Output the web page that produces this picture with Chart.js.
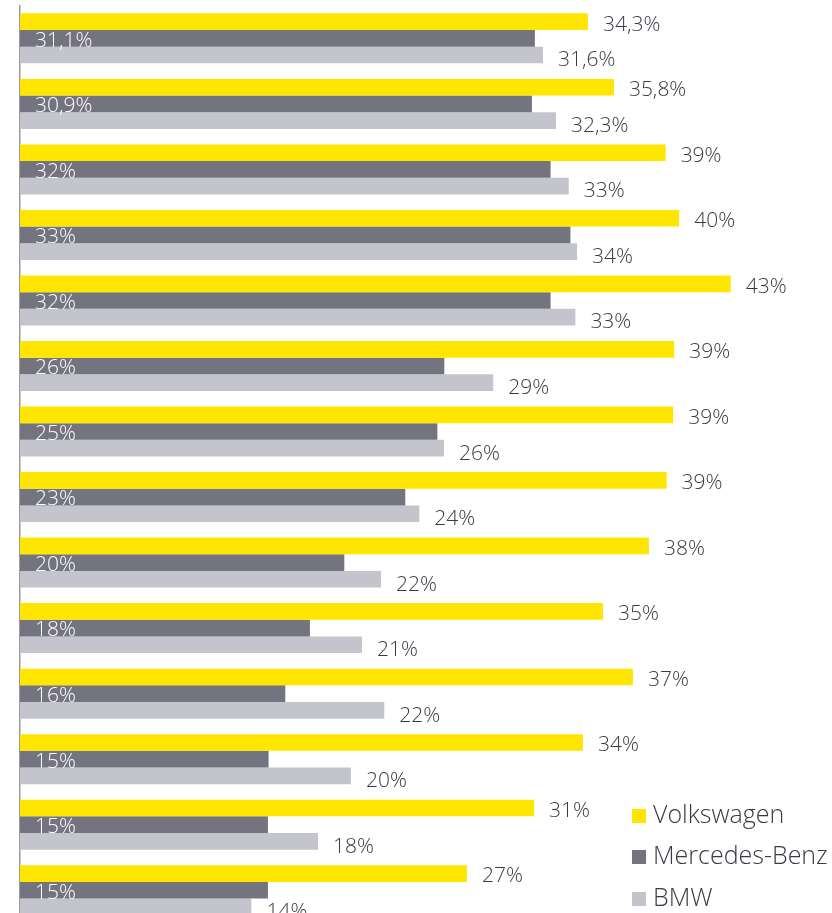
<!DOCTYPE html>
<html>
<head>
<meta charset="utf-8">
<script src="https://cdn.jsdelivr.net/npm/chart.js@4.4.1/dist/chart.umd.min.js"></script>
<style>
html,body{margin:0;padding:0;overflow:hidden;background:#ffffff;width:832px;height:913px}
canvas{display:block}
</style>
</head>
<body>
<canvas id="c" width="832" height="923"></canvas>
<script>
// ---- data ----
const categories = ['1','2','3','4','5','6','7','8','9','10','11','12','13','14'];
const seriesNames = ['Volkswagen', 'Mercedes-Benz', 'BMW'];
const volkswagen = [34.36, 35.93, 39.06, 39.88, 43.0, 39.58, 39.52, 39.12, 38.05, 35.27, 37.08, 34.06, 31.1, 27.04];
const mercedes   = [31.15, 30.97, 32.1, 33.3, 32.1, 25.67, 25.25, 23.31, 19.62, 17.54, 16.05, 15.04, 15.0, 15.0];
const bmw        = [31.64, 32.43, 33.2, 33.7, 33.6, 28.63, 25.65, 24.16, 21.84, 20.69, 22.04, 20.02, 18.03, 14.0];
const vwLabels   = ['34,3%','35,8%','39%','40%','43%','39%','39%','39%','38%','35%','37%','34%','31%','27%'];
const mbLabels   = ['31,1%','30,9%','32%','33%','32%','26%','25%','23%','20%','18%','16%','15%','15%','15%'];
const bmwLabels  = ['31,6%','32,3%','33%','34%','33%','29%','26%','24%','22%','21%','22%','20%','18%','14%'];

const COLORS = ['#FFE600', '#747480', '#C4C4CD'];
const TEXT = '#3a3a44';
const FONT_FAMILY = '"Open Sans", "Noto Sans", "Liberation Sans", sans-serif';

const labelPlugin = {
  id: 'valueLabels',
  afterDatasetsDraw(chart) {
    const ctx = chart.ctx;
    ctx.save();
    ctx.font = '300 21px ' + FONT_FAMILY;
    ctx.textBaseline = 'alphabetic';
    ctx.textAlign = 'left';
    const lbls = [vwLabels, mbLabels, bmwLabels];
    chart.data.datasets.forEach((ds, di) => {
      const meta = chart.getDatasetMeta(di);
      meta.data.forEach((el, i) => {
        const p = el.getProps(['x', 'y', 'base', 'height'], true);
        const bottom = p.y + p.height / 2;
        if (di === 0) {
          ctx.fillStyle = TEXT;
          ctx.fillText(lbls[di][i], p.x + 15, bottom + 0.5);
        } else if (di === 1) {
          ctx.fillStyle = '#ffffff';
          ctx.fillText(lbls[di][i], p.base + 15, bottom);
        } else {
          ctx.fillStyle = TEXT;
          ctx.fillText(lbls[di][i], p.x + 15, bottom + 3);
        }
      });
    });
    ctx.restore();
  }
};

const legendPlugin = {
  id: 'customLegend',
  afterDraw(chart) {
    const ctx = chart.ctx;
    ctx.save();
    ctx.font = '300 25px ' + FONT_FAMILY;
    ctx.textBaseline = 'alphabetic';
    ctx.textAlign = 'left';
    const baselines = [823, 864, 906];
    chart.data.datasets.forEach((ds, di) => {
      const b = baselines[di];
      ctx.fillStyle = ds.backgroundColor;
      ctx.fillRect(632, b - 14, 14, 14);
      ctx.fillStyle = TEXT;
      ctx.fillText(ds.label, 653, b);
    });
    ctx.restore();
  }
};

new Chart(document.getElementById('c'), {
  type: 'bar',
  data: {
    labels: categories,
    datasets: [
      { label: seriesNames[0], data: volkswagen, backgroundColor: COLORS[0] },
      { label: seriesNames[1], data: mercedes, backgroundColor: COLORS[1] },
      { label: seriesNames[2], data: bmw, backgroundColor: COLORS[2] }
    ]
  },
  options: {
    indexAxis: 'y',
    responsive: false,
    devicePixelRatio: 1,
    animation: false,
    layout: { padding: { left: 20, right: 18.6, top: 5.6, bottom: 0 } },
    datasets: { bar: { categoryPercentage: 0.763, barPercentage: 1.0, borderWidth: 0 } },
    scales: {
      x: { display: false, min: 0, max: 48 },
      y: {
        display: true,
        grid: { display: false, drawTicks: false },
        ticks: { display: false },
        border: { display: true, color: '#9a9aa0', width: 1.5 },
        afterFit(scale) { scale.width = 0; }
      }
    },
    plugins: { legend: { display: false }, tooltip: { enabled: false } }
  },
  plugins: [labelPlugin, legendPlugin]
});
</script>
</body>
</html>
